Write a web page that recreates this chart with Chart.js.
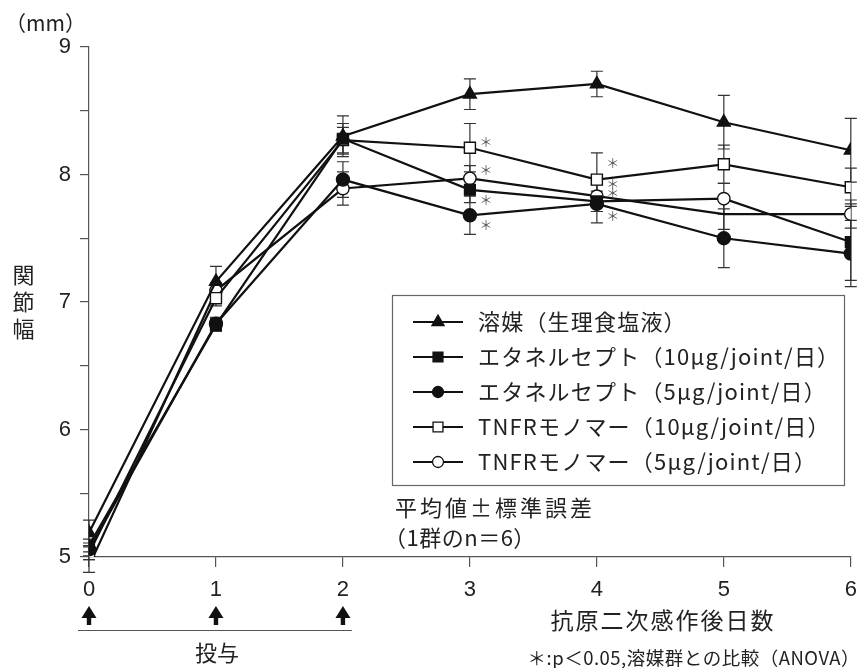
<!DOCTYPE html>
<html><head><meta charset="utf-8">
<script src="https://cdn.jsdelivr.net/npm/chart.js@4"></script>
<style>html,body{margin:0;padding:0;background:#fff}#wrap{width:860px;height:668px;position:relative}</style>
</head><body><div id="wrap"><canvas id="c" width="860" height="668"></canvas></div>
<script>
// ---- data ----
const days = [0, 1, 2, 3, 4, 5, 6];
const yTicks = [5, 6, 7, 8, 9];
const seriesLabels = ['溶媒（生理食塩液）', 'エタネルセプト（10μg/joint/日）', 'エタネルセプト（5μg/joint/日）', 'TNFRモノマー（10μg/joint/日）', 'TNFRモノマー（5μg/joint/日）'];
const vehicle   = [5.19, 7.16, 8.30, 8.63, 8.71, 8.41, 8.19];
const vehicleSE = [0.10, 0.12, 0.16, 0.12, 0.10, 0.21, 0.25];
const etan10    = [5.09, 6.82, 8.28, 7.88, 7.79, 7.81, 7.47];
const etan10SE  = [0.05, 0.05, 0.12, 0.10, 0.08, 0.12, 0.30];
const etan5     = [5.06, 6.83, 7.96, 7.68, 7.77, 7.50, 7.38];
const etan5SE   = [0.05, 0.05, 0.14, 0.15, 0.15, 0.23, 0.26];
const tnfr10    = [5.03, 7.03, 8.27, 8.21, 7.96, 8.08, 7.90];
const tnfr10SE  = [0.05, 0.06, 0.10, 0.19, 0.21, 0.15, 0.15];
const tnfr5     = [4.93, 7.09, 7.89, 7.97, 7.83, 7.69, 7.69];
const tnfr5SE   = [0.05, 0.06, 0.13, 0.10, 0.12, 0.12, 0.11];
const starDays  = [3, 4];           // days with p<0.05 vs vehicle (treated groups)
const doseDays  = [0, 1, 2];        // dosing days (arrows)
const yUnit = '（mm）';
const yTitle = '関節幅';
const xTitle = '抗原二次感作後日数';
const doseLabel = '投与';
const noteLines = ['平均値±標準誤差', '（1群のn＝6）'];
const footnote = '＊:p＜0.05,溶媒群との比較（ANOVA）';

// ---- styles ----
const INK = '#111';
const AXIS = '#555';
const CJK = '"Noto Sans CJK JP", "Noto Sans", sans-serif';
const LAT = '"Liberation Sans", Arial, sans-serif';
// star vertical offsets (px) per series for days 3 and 4
const starOffsets = [null, [10, -8], [10, 12], [-6, -17], [-8, -12]];

Chart.defaults.font.family = LAT;
Chart.defaults.color = '#222';

const mk = (label, vals, se, style, fill, radius, extra) => Object.assign({
  label, se,
  data: days.map((d, i) => ({ x: d, y: vals[i] })),
  borderColor: INK, borderWidth: 2.2, tension: 0, fill: false,
  pointStyle: style, pointRadius: radius, pointHoverRadius: radius,
  pointBackgroundColor: fill, pointBorderColor: INK, pointBorderWidth: 1.4,
  legendStyle: style, legendFill: fill
}, extra || {});

const datasets = [
  mk(seriesLabels[0], vehicle, vehicleSE, 'triangle', INK, 7.5),
  mk(seriesLabels[1], etan10, etan10SE, days.map((d,i)=> i===5 ? 'circle' : 'rect'), days.map((d,i)=> i===5 ? '#fff' : INK), days.map((d,i)=> i===5 ? 6.2 : 7.6), {legendStyle:'rect', legendFill: INK}),
  mk(seriesLabels[2], etan5, etan5SE, 'circle', INK, 6.5),
  mk(seriesLabels[3], tnfr10, tnfr10SE, 'rect', '#fff', 7.8),
  mk(seriesLabels[4], tnfr5, tnfr5SE, 'circle', '#fff', days.map((d,i)=> i===5 ? 0 : 6.2), {legendStyle:'circle'})
];

function drawMarker(ctx, style, x, y, r, fill) {
  ctx.save();
  ctx.beginPath();
  if (style === 'triangle') {
    const w = r * Math.sin(Math.PI * 2 / 3);
    ctx.moveTo(x, y - r); ctx.lineTo(x + w, y + r / 2); ctx.lineTo(x - w, y + r / 2); ctx.closePath();
  } else if (style === 'rect') {
    const s = r * Math.SQRT1_2;
    ctx.rect(x - s, y - s, 2 * s, 2 * s);
  } else {
    ctx.arc(x, y, r, 0, Math.PI * 2);
  }
  ctx.fillStyle = fill; ctx.fill();
  ctx.lineWidth = 1.3; ctx.strokeStyle = INK; ctx.stroke();
  ctx.restore();
}

const errorBars = {
  id: 'errorBars',
  beforeDatasetsDraw(chart) {
    const { ctx, scales: { x, y } } = chart;
    ctx.save();
    ctx.strokeStyle = '#333'; ctx.lineWidth = 1.2;
    chart.data.datasets.forEach(ds => {
      ds.data.forEach((p, i) => {
        const px = x.getPixelForValue(p.x);
        const top = y.getPixelForValue(p.y + ds.se[i]);
        const bot = y.getPixelForValue(p.y - ds.se[i]);
        ctx.beginPath();
        ctx.moveTo(px, top); ctx.lineTo(px, bot);
        ctx.moveTo(px - 6, top); ctx.lineTo(px + 6, top);
        ctx.moveTo(px - 6, bot); ctx.lineTo(px + 6, bot);
        ctx.stroke();
      });
    });
    ctx.restore();
  }
};

const decorations = {
  id: 'decorations',
  afterDraw(chart) {
    const { ctx, scales: { x, y } } = chart;
    ctx.save();
    // significance stars
    ctx.fillStyle = '#555';
    ctx.font = '13px ' + CJK;
    ctx.textAlign = 'center'; ctx.textBaseline = 'middle';
    chart.data.datasets.forEach((ds, di) => {
      if (!starOffsets[di]) return;
      starDays.forEach((d, k) => {
        const p = ds.data[days.indexOf(d)];
        ctx.fillText('＊', x.getPixelForValue(d) + 16, y.getPixelForValue(p.y) + starOffsets[di][k]);
      });
    });

    ctx.fillStyle = '#222';
    // unit
    ctx.textAlign = 'left';
    ctx.font = '21px ' + CJK;
    ctx.fillText(yUnit, 5, 23);
    // vertical y title
    ctx.textAlign = 'center';
    ctx.font = '22px ' + CJK;
    [...yTitle].forEach((ch, i) => ctx.fillText(ch, 23.5, 275 + i * 27));

    // dose arrows
    doseDays.forEach(d => {
      const px = x.getPixelForValue(d);
      ctx.fillStyle = INK;
      ctx.beginPath();
      ctx.moveTo(px, 606); ctx.lineTo(px + 7.5, 618); ctx.lineTo(px - 7.5, 618); ctx.closePath(); ctx.fill();
      ctx.fillRect(px - 2.2, 616, 4.4, 9);
    });
    const x0 = x.getPixelForValue(doseDays[0]), x1 = x.getPixelForValue(doseDays[doseDays.length - 1]);
    ctx.strokeStyle = AXIS; ctx.lineWidth = 1.2;
    ctx.beginPath(); ctx.moveTo(x0 - 11, 630.5); ctx.lineTo(x1 + 9, 630.5); ctx.stroke();
    ctx.fillStyle = '#222';
    ctx.font = '22px ' + CJK;
    ctx.textAlign = 'center';
    ctx.fillText(doseLabel, (x0 + x1) / 2 + 1, 653);

    // x title
    ctx.font = '23px ' + CJK;
    ctx.letterSpacing = '2px';
    ctx.fillText(xTitle, 663, 620);
    // footnote
    ctx.letterSpacing = '0.5px';
    ctx.textAlign = 'right';
    ctx.font = '18.5px ' + CJK;
    ctx.fillText(footnote, 860, 658);

    // notes
    ctx.textAlign = 'left';
    ctx.font = '22px ' + CJK;
    ctx.letterSpacing = '3px';
    ctx.fillText(noteLines[0], 395, 508);
    ctx.letterSpacing = '0.5px';
    ctx.fillText(noteLines[1], 384, 538);

    // legend
    ctx.strokeStyle = '#666'; ctx.lineWidth = 1.2;
    ctx.strokeRect(392.5, 295.5, 452, 190);
    chart.data.datasets.forEach((ds, i) => {
      const ly = 322 + i * 35;
      ctx.strokeStyle = INK; ctx.lineWidth = 2.2;
      ctx.beginPath(); ctx.moveTo(413, ly); ctx.lineTo(463, ly); ctx.stroke();
      drawMarker(ctx, ds.legendStyle, 438, ly, ds.legendStyle === 'rect' ? 7 : (ds.legendStyle === 'triangle' ? 7 : 5.5), ds.legendFill);
      ctx.fillStyle = '#222';
      ctx.font = '22px ' + CJK;
      ctx.letterSpacing = '1.2px';
      ctx.textAlign = 'left';
      ctx.fillText(ds.label, 478, ly);
    });
    ctx.restore();
  }
};

new Chart(document.getElementById('c'), {
  type: 'line',
  data: { datasets },
  options: {
    responsive: false, animation: false, events: [],
    layout: { padding: { left: 0, right: 8, top: 47, bottom: 0 } },
    plugins: { legend: { display: false }, tooltip: { enabled: false } },
    scales: {
      x: {
        type: 'linear', min: 0, max: 6,
        afterFit: s => { s.height = 111; s.paddingLeft = 0; s.paddingRight = 0; },
        afterBuildTicks: s => { s.ticks = days.map(v => ({ value: v })); },
        ticks: { font: { size: 22, family: LAT }, color: '#222', padding: 10, maxRotation: 0, autoSkip: false },
        grid: { drawOnChartArea: false, drawTicks: true, tickLength: 10, color: AXIS, lineWidth: 1.2 },
        border: { color: AXIS, width: 1.2 }
      },
      y: {
        min: 5, max: 9,
        afterFit: s => { s.width = 89; s.paddingTop = 0; s.paddingBottom = 0; },
        afterBuildTicks: s => {
          const t = [];
          yTicks.forEach((v, i) => { t.push({ value: v }); if (i < yTicks.length - 1) t.push({ value: v + 0.5 }); });
          s.ticks = t;
        },
        ticks: { font: { size: 22, family: LAT }, color: '#222', padding: 9, autoSkip: false,
          callback: v => (yTicks.includes(v) ? String(v) : '') },
        grid: { drawOnChartArea: false, drawTicks: true, tickLength: 9, color: AXIS, lineWidth: 1.2 },
        border: { color: AXIS, width: 1.2 }
      }
    }
  },
  plugins: [errorBars, decorations]
});
</script>
</body></html>
